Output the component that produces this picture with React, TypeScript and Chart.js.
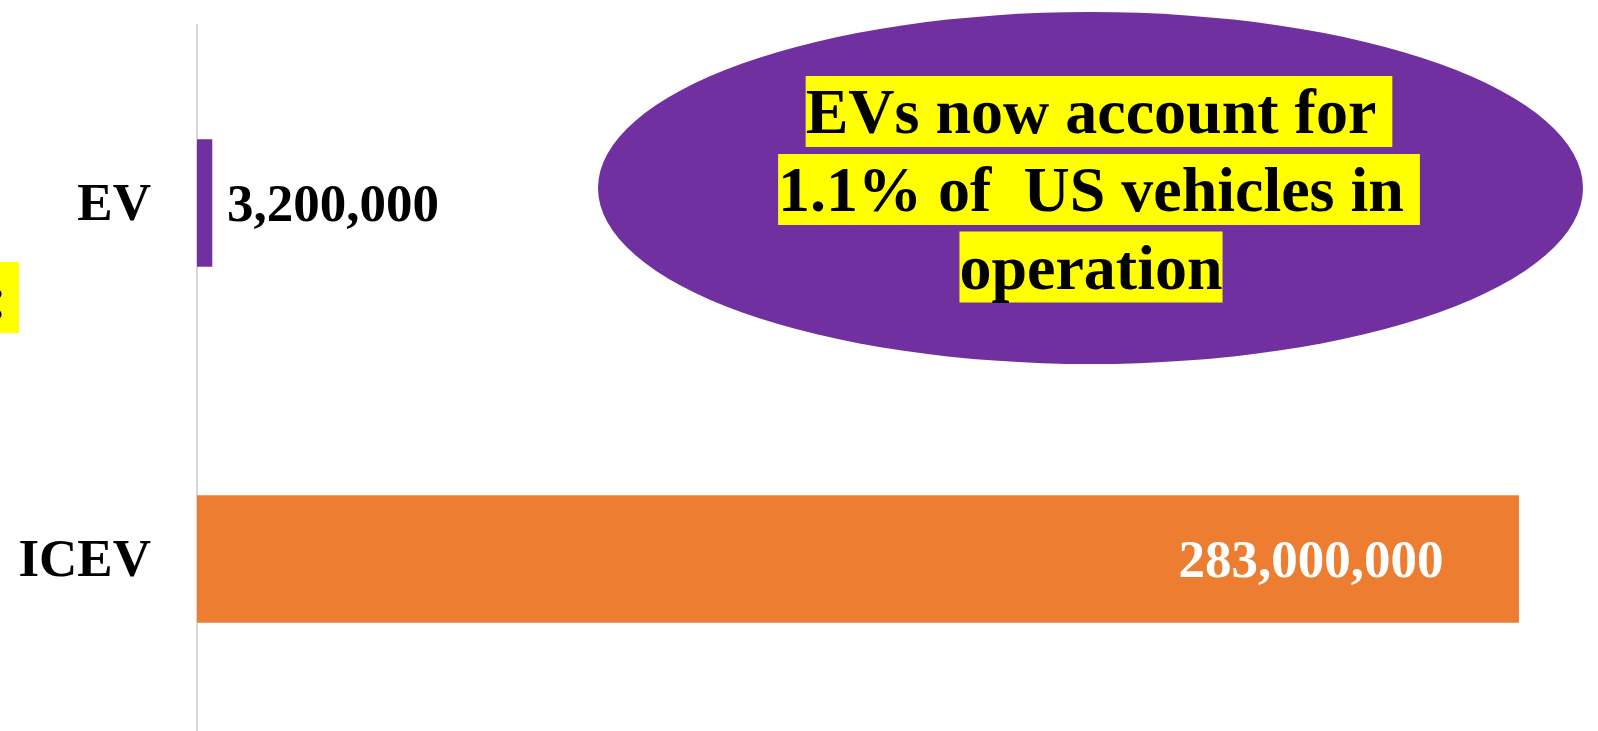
import React, { useEffect, useRef } from "react";
import { Chart, registerables } from "chart.js";

Chart.register(...registerables);

const categories = ["EV", "ICEV"];
const vehicleCounts = [3200000, 283000000];
const valueLabels = ["3,200,000", "283,000,000"];
const barColors = ["#7030A0", "#ED7D31"];
const calloutLines = ["EVs now account for ", "1.1% of  US vehicles in ", "operation"];

const SERIF = '"Liberation Serif", "Times New Roman", serif';

const overlayPlugin = {
  id: "overlay",
  afterDatasetsDraw(chart: any) {
    const ctx = chart.ctx as CanvasRenderingContext2D;
    const meta = chart.getDatasetMeta(0);
    ctx.save();
    // value labels
    ctx.font = `bold 53px ${SERIF}`;
    ctx.textBaseline = "alphabetic";
    meta.data.forEach((bar: any, i: number) => {
      if (i === 0) {
        ctx.fillStyle = "#000000";
        ctx.textAlign = "left";
        ctx.fillText(valueLabels[i], bar.x + 15, bar.y + 18);
      } else {
        ctx.fillStyle = "#FFFFFF";
        ctx.textAlign = "right";
        ctx.fillText(valueLabels[i], bar.x - 75, bar.y + 17.5);
      }
    });

    // callout ellipse
    ctx.fillStyle = "#7030A0";
    ctx.beginPath();
    ctx.ellipse(1090.5, 188, 492.5, 176, 0, 0, Math.PI * 2);
    ctx.fill();

    ctx.font = `bold 64px ${SERIF}`;
    ctx.textBaseline = "alphabetic";
    ctx.textAlign = "left";
    const cx = 1091;
    const baselines = [133, 211, 288.5];
    calloutLines.forEach((line, i) => {
      const trimmed = line.replace(/\s+$/, "");
      const wTrim = ctx.measureText(trimmed).width;
      const wFull = ctx.measureText(line).width;
      const m = ctx.measureText(line);
      const asc = m.fontBoundingBoxAscent ?? 57;
      const desc = m.fontBoundingBoxDescent ?? 14;
      const x0 = cx - wTrim / 2;
      ctx.fillStyle = "#FFFF00";
      ctx.fillRect(x0, baselines[i] - asc, wFull, asc + desc);
      ctx.fillStyle = "#000000";
      ctx.fillText(line, x0, baselines[i]);
    });

    // clipped text box at left edge
    ctx.fillStyle = "#FFFF00";
    ctx.fillRect(0, 262, 19, 71);
    ctx.fillStyle = "#000000";
    ctx.fillText(":", -14, 319);
    ctx.restore();
  },
};

export default function App() {
  const canvasRef = useRef<HTMLCanvasElement | null>(null);

  useEffect(() => {
    if (!canvasRef.current) return;
    const chart = new Chart(canvasRef.current, {
      type: "bar",
      data: {
        labels: categories,
        datasets: [
          {
            data: vehicleCounts,
            backgroundColor: barColors,
            borderWidth: 0,
            barThickness: 127,
          },
        ],
      },
      options: {
        indexAxis: "y",
        responsive: false,
        animation: false,
        layout: { padding: { top: 25, left: 0, right: 0, bottom: 0 } },
        plugins: {
          legend: { display: false },
          tooltip: { enabled: false },
        },
        scales: {
          x: {
            display: false,
            min: 0,
            max: 300000000,
          },
          y: {
            grid: { display: false, drawTicks: false },
            border: { display: true, color: "#D9D9D9", width: 2 },
            ticks: {
              color: "#000000",
              padding: 46,
              labelOffset: 3,
              font: { family: SERIF, size: 53, weight: "bold" },
            },
            afterFit(scale: any) {
              scale.width = 197;
              scale.paddingTop = 0;
              scale.paddingBottom = 0;
            },
          },
        },
      },
      plugins: [overlayPlugin],
    } as any);
    return () => chart.destroy();
  }, []);

  return (
    <div
      style={{
        position: "fixed",
        left: 0,
        top: 0,
        width: 1598,
        height: 731,
        overflow: "hidden",
        background: "#FFFFFF",
      }}
    >
      <canvas ref={canvasRef} width={1598} height={737} style={{ display: "block" }} />
    </div>
  );
}
